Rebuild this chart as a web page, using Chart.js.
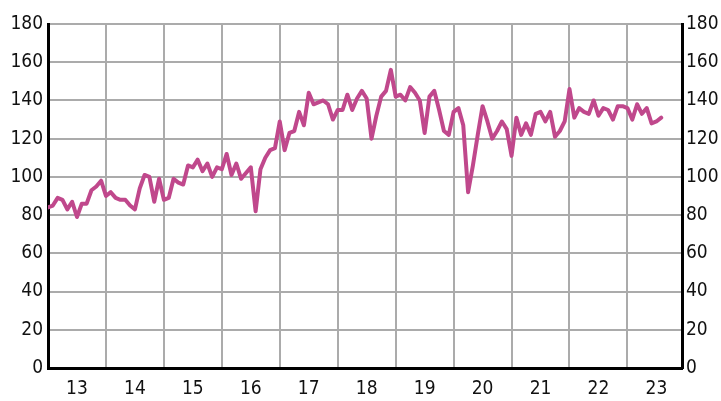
<!DOCTYPE html>
<html>
<head>
<meta charset="utf-8">
<script src="https://cdn.jsdelivr.net/npm/chart.js@4"></script>
<style>
  html, body { margin: 0; padding: 0; background: #fff; }
  #wrap { width: 721px; height: 401px; }
</style>
</head>
<body>
<div id="wrap"><canvas id="c" width="721" height="401"></canvas></div>
<script>
// monthly values, Jan 2013 .. Aug 2023
const values2013 = [84, 85, 89, 88, 83, 87, 79, 86, 86, 93, 95, 98];
const values2014 = [90, 92, 89, 88, 88, 85, 83, 94, 101, 100, 87, 99];
const values2015 = [88, 89, 99, 97, 96, 106, 105, 109, 103, 107, 100, 105];
const values2016 = [104, 112, 101, 107, 99, 102, 105, 82, 104, 110, 114, 115];
const values2017 = [129, 114, 123, 124, 134, 127, 144, 138, 139, 140, 138, 130];
const values2018 = [135, 135, 143, 135, 141, 145, 141, 120, 132, 142, 145, 156];
const values2019 = [142, 143, 140, 147, 144, 140, 123, 142, 145, 135, 124, 122];
const values2020 = [134, 136, 127, 92, 106, 122, 137, 129, 120, 124, 129, 125];
const values2021 = [111, 131, 122, 128, 122, 133, 134, 129, 134, 121, 124, 129];
const values2022 = [146, 131, 136, 134, 133, 140, 132, 136, 135, 130, 137, 137];
const values2023 = [136, 130, 138, 133, 136, 128, 129, 131];

const yearLabels = ['13', '14', '15', '16', '17', '18', '19', '20', '21', '22', '23'];
const yTicks = [0, 20, 40, 60, 80, 100, 120, 140, 160, 180];

const series = [].concat(values2013, values2014, values2015, values2016, values2017,
  values2018, values2019, values2020, values2021, values2022, values2023);
const points = series.map((v, i) => ({ x: i, y: v }));

const FONT = { family: "'Liberation Sans Narrow', 'DejaVu Sans Condensed', sans-serif", size: 19 };
const GRID = '#ababab';

const yAxis = (pos) => ({
  type: 'linear',
  position: pos,
  min: 0,
  max: 180,
  afterBuildTicks: s => { s.ticks = yTicks.map(v => ({ value: v })); },
  afterFit: s => { s.width = pos === 'left' ? 48 : 39; },
  border: { display: true, color: '#000', width: 3 },
  grid: { display: pos === 'left', color: GRID, lineWidth: 2, drawTicks: false },
  ticks: { color: '#111', font: FONT, padding: pos === 'left' ? 5 : 4 }
});

new Chart(document.getElementById('c'), {
  type: 'line',
  data: {
    datasets: [{
      data: points,
      borderColor: 'rgb(192,72,140)',
      borderWidth: 4,
      pointRadius: 0,
      tension: 0,
      borderJoinStyle: 'round',
      borderCapStyle: 'round'
    }]
  },
  options: {
    responsive: false,
    animation: false,
    layout: { padding: { top: 24, left: 0, right: 0, bottom: 0 } },
    plugins: { legend: { display: false }, tooltip: { enabled: false } },
    scales: {
      x: {
        type: 'linear',
        min: 0,
        max: 131.3,
        afterBuildTicks: s => {
          const t = [];
          for (let k = 0; k < yearLabels.length; k++) {
            t.push({ value: 12 * k + 6 });
            if (k > 0) t.push({ value: 12 * k });
          }
          s.ticks = t.sort((a, b) => a.value - b.value);
        },
        afterFit: s => { s.height = 33; },
        border: { display: true, color: '#000', width: 3 },
        grid: {
          color: c => (c.tick && c.tick.value % 12 === 0) ? GRID : 'rgba(0,0,0,0)',
          lineWidth: 2,
          drawTicks: false
        },
        ticks: {
          autoSkip: false,
          maxRotation: 0,
          color: '#111',
          font: FONT,
          padding: 10,
          callback: v => (v % 12 === 6) ? yearLabels[(v - 6) / 12] : ''
        }
      },
      y: yAxis('left'),
      y2: yAxis('right')
    }
  }
});
</script>
</body>
</html>
